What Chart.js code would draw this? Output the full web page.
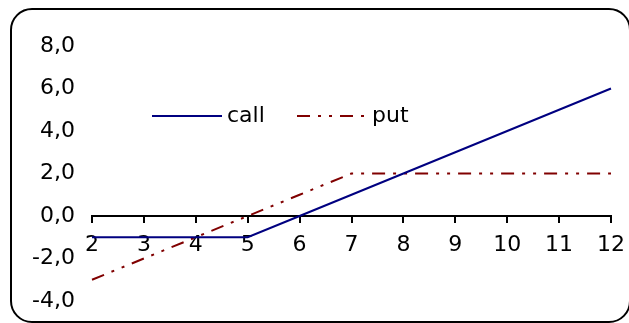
<!DOCTYPE html>
<html>
<head>
<meta charset="utf-8">
<script src="https://cdn.jsdelivr.net/npm/chart.js@4/dist/chart.umd.min.js"></script>
<style>
  html, body { margin: 0; padding: 0; background: #fff; }
  #wrap { position: relative; width: 629px; height: 323px; overflow: hidden; }
  #frame {
    position: absolute; left: 10px; top: 8px; width: 617px; height: 311px;
    border: 2px solid #000; border-radius: 22px; pointer-events: none;
  }
  canvas { position: absolute; left: 0; top: 0; }
</style>
</head>
<body>
<div id="wrap">
  <canvas id="c" width="629" height="323"></canvas>
  <div id="frame"></div>
</div>
<script>
// Payoff of a call and a put against the underlying price
const strikes = ['2', '3', '4', '5', '6', '7', '8', '9', '10', '11', '12'];
const callValues = [-1, -1, -1, -1, 0, 1, 2, 3, 4, 5, 6];
const putValues = [-3, -2, -1, 0, 1, 2, 2, 2, 2, 2, 2];
const seriesNames = ['call', 'put'];
const yTicks = [-4, -2, 0, 2, 4, 6, 8];

const FONT = 'DejaVu Sans';
const FONT_SIZE = 22;

// Legend drawn inside the plot, using each dataset's own line style
const inlineLegend = {
  id: 'inlineLegend',
  afterDraw(chart) {
    const ctx = chart.ctx;
    const y = 116;
    const items = [
      { x0: 152, x1: 222, tx: 227 },
      { x0: 297, x1: 364, tx: 372 }
    ];
    chart.data.datasets.forEach((ds, i) => {
      const it = items[i];
      ctx.save();
      ctx.strokeStyle = ds.borderColor;
      ctx.lineWidth = ds.borderWidth;
      ctx.setLineDash(ds.borderDash || []);
      ctx.beginPath();
      ctx.moveTo(it.x0, y);
      ctx.lineTo(it.x1, y);
      ctx.stroke();
      ctx.setLineDash([]);
      ctx.fillStyle = '#000';
      ctx.font = FONT_SIZE + 'px "' + FONT + '"';
      ctx.textBaseline = 'middle';
      ctx.textAlign = 'left';
      ctx.fillText(ds.label, it.tx, y);
      ctx.restore();
    });
  }
};

// keep the plot area exactly where the layout padding puts it
function noLabelPadding(scale) {
  scale.paddingLeft = 0;
  scale.paddingRight = 0;
  scale.paddingTop = 0;
  scale.paddingBottom = 0;
}

new Chart(document.getElementById('c'), {
  type: 'line',
  data: {
    labels: strikes,
    datasets: [
      {
        label: seriesNames[0],
        data: callValues,
        borderColor: '#000080',
        borderWidth: 2,
        pointRadius: 0,
        tension: 0,
        fill: false
      },
      {
        label: seriesNames[1],
        data: putValues,
        borderColor: '#800000',
        borderWidth: 2,
        borderDash: [13, 8, 3, 8, 3, 8],
        pointRadius: 0,
        tension: 0,
        fill: false
      }
    ]
  },
  options: {
    responsive: false,
    animation: false,
    devicePixelRatio: 1,
    layout: { padding: { left: 12, right: 18, top: 46, bottom: 22 } },
    plugins: {
      legend: { display: false },
      tooltip: { enabled: false }
    },
    scales: {
      x: {
        type: 'category',
        position: { y: 0 },
        offset: false,
        afterFit: noLabelPadding,
        grid: {
          display: true,
          drawOnChartArea: false,
          drawTicks: true,
          tickLength: 6,
          color: '#000',
          lineWidth: 2
        },
        border: { display: true, color: '#000', width: 2 },
        ticks: {
          color: '#000',
          font: { family: FONT, size: FONT_SIZE },
          padding: 10,
          maxRotation: 0,
          autoSkip: false
        }
      },
      y: {
        min: yTicks[0],
        max: yTicks[yTicks.length - 1],
        afterFit(scale) { scale.width = 80; noLabelPadding(scale); },
        afterBuildTicks(scale) { scale.ticks = yTicks.map(v => ({ value: v })); },
        grid: { display: false },
        border: { display: false },
        ticks: {
          color: '#000',
          font: { family: FONT, size: FONT_SIZE },
          padding: 9,
          callback: v => Number(v).toFixed(1).replace('.', ',')
        }
      }
    }
  },
  plugins: [inlineLegend]
});
</script>
</body>
</html>
